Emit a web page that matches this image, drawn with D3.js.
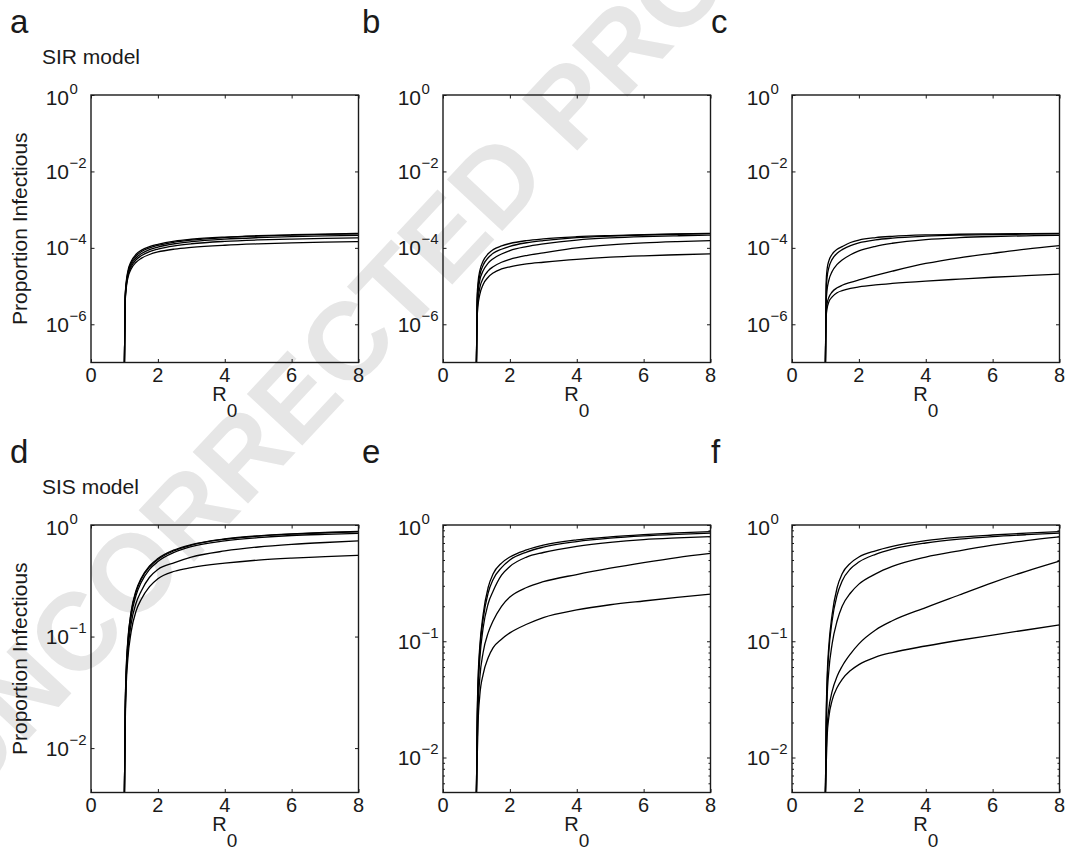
<!DOCTYPE html>
<html>
<head>
<meta charset="utf-8">
<script src="https://d3js.org/d3.v7.min.js"></script>
<style>
body { margin: 0; background: #fff; }
svg text { font-family: "Liberation Sans", Arial, Helvetica, sans-serif; fill: #1a1a1a; }
.axis path, .axis line { stroke: #1a1a1a; }
</style>
</head>
<body>
<div id="container"></div>
<script>
var r0Grid = [1, 1.02, 1.05, 1.1, 1.2, 1.35, 1.5, 1.75, 2, 2.5, 3, 4, 5, 6, 7, 8];

// SIR model, proportion infectious (5 curves per panel)
var panelA = [
  [1e-7, 5e-6, 1.2e-5, 2.4e-5, 4.4e-5, 6.8e-5, 8.6e-5, 1.08e-4, 1.24e-4, 1.5e-4, 1.68e-4, 1.92e-4, 2.08e-4, 2.2e-4, 2.3e-4, 2.38e-4],
  [1e-7, 4.6e-6, 1.1e-5, 2.2e-5, 4.0e-5, 6.2e-5, 7.9e-5, 1.0e-4, 1.16e-4, 1.42e-4, 1.6e-4, 1.86e-4, 2.03e-4, 2.15e-4, 2.26e-4, 2.34e-4],
  [1e-7, 4.2e-6, 1.0e-5, 2.0e-5, 3.6e-5, 5.5e-5, 7.0e-5, 9.0e-5, 1.05e-4, 1.28e-4, 1.45e-4, 1.69e-4, 1.85e-4, 1.97e-4, 2.06e-4, 2.13e-4],
  [1e-7, 3.8e-6, 9e-6, 1.8e-5, 3.2e-5, 4.9e-5, 6.2e-5, 8.0e-5, 9.3e-5, 1.13e-4, 1.28e-4, 1.48e-4, 1.61e-4, 1.7e-4, 1.77e-4, 1.83e-4],
  [1e-7, 3.4e-6, 8e-6, 1.6e-5, 2.8e-5, 4.2e-5, 5.3e-5, 6.7e-5, 7.8e-5, 9.3e-5, 1.03e-4, 1.17e-4, 1.27e-4, 1.35e-4, 1.41e-4, 1.46e-4]
];
var panelB = [
  [1e-7, 5e-6, 1.3e-5, 2.5e-5, 4.5e-5, 7.0e-5, 9.0e-5, 1.12e-4, 1.3e-4, 1.55e-4, 1.72e-4, 1.95e-4, 2.1e-4, 2.22e-4, 2.32e-4, 2.4e-4],
  [1e-7, 4e-6, 1e-5, 1.9e-5, 3.5e-5, 5.5e-5, 7.2e-5, 9.2e-5, 1.1e-4, 1.36e-4, 1.55e-4, 1.85e-4, 2.03e-4, 2.17e-4, 2.27e-4, 2.35e-4],
  [1e-7, 3e-6, 7e-6, 1.4e-5, 2.5e-5, 4.0e-5, 5.2e-5, 6.9e-5, 8.5e-5, 1.08e-4, 1.27e-4, 1.6e-4, 1.82e-4, 1.97e-4, 2.07e-4, 2.15e-4],
  [1e-7, 2e-6, 4.6e-6, 9e-6, 1.6e-5, 2.5e-5, 3.2e-5, 4.2e-5, 5.0e-5, 6.3e-5, 7.4e-5, 1.0e-4, 1.2e-4, 1.35e-4, 1.46e-4, 1.55e-4],
  [1e-7, 1.4e-6, 3.2e-6, 6e-6, 1.1e-5, 1.7e-5, 2.2e-5, 2.8e-5, 3.2e-5, 3.8e-5, 4.2e-5, 5.0e-5, 5.7e-5, 6.2e-5, 6.6e-5, 7.0e-5]
];
var panelC = [
  [1e-7, 1.2e-5, 2.8e-5, 4.5e-5, 6.8e-5, 9.2e-5, 1.08e-4, 1.38e-4, 1.6e-4, 1.85e-4, 2.0e-4, 2.18e-4, 2.27e-4, 2.33e-4, 2.37e-4, 2.4e-4],
  [1e-7, 7e-6, 1.7e-5, 3e-5, 5e-5, 7.2e-5, 9e-5, 1.15e-4, 1.35e-4, 1.62e-4, 1.8e-4, 2.02e-4, 2.15e-4, 2.23e-4, 2.28e-4, 2.32e-4],
  [1e-7, 3.5e-6, 8e-6, 1.4e-5, 2.4e-5, 3.7e-5, 4.8e-5, 6.6e-5, 8.3e-5, 1.1e-4, 1.32e-4, 1.65e-4, 1.85e-4, 1.98e-4, 2.07e-4, 2.13e-4],
  [1e-7, 2e-6, 3.5e-6, 5e-6, 7e-6, 9e-6, 1.05e-5, 1.25e-5, 1.45e-5, 1.9e-5, 2.45e-5, 3.9e-5, 5.5e-5, 7.2e-5, 9.3e-5, 1.15e-4],
  [1e-7, 1.5e-6, 2.6e-6, 3.8e-6, 5.2e-6, 6.7e-6, 7.6e-6, 8.7e-6, 9.5e-6, 1.07e-5, 1.17e-5, 1.35e-5, 1.52e-5, 1.7e-5, 1.87e-5, 2.05e-5]
];

// SIS model
var panelD = [
  [0.004, 0.0196, 0.048, 0.091, 0.167, 0.26, 0.333, 0.43, 0.5, 0.6, 0.667, 0.75, 0.8, 0.833, 0.857, 0.875],
  [0.004, 0.019, 0.046, 0.088, 0.162, 0.252, 0.325, 0.42, 0.49, 0.59, 0.66, 0.745, 0.795, 0.828, 0.852, 0.868],
  [0.004, 0.018, 0.043, 0.082, 0.15, 0.235, 0.305, 0.4, 0.47, 0.57, 0.64, 0.72, 0.77, 0.805, 0.825, 0.84],
  [0.004, 0.016, 0.039, 0.072, 0.13, 0.2, 0.255, 0.34, 0.4, 0.46, 0.515, 0.585, 0.635, 0.67, 0.697, 0.72],
  [0.004, 0.014, 0.034, 0.062, 0.11, 0.17, 0.215, 0.28, 0.33, 0.385, 0.415, 0.455, 0.485, 0.505, 0.52, 0.535]
];
var panelE = [
  [0.005, 0.02, 0.048, 0.09, 0.17, 0.29, 0.38, 0.47, 0.53, 0.61, 0.67, 0.745, 0.79, 0.825, 0.855, 0.876],
  [0.005, 0.018, 0.044, 0.083, 0.155, 0.26, 0.34, 0.43, 0.5, 0.585, 0.645, 0.72, 0.77, 0.805, 0.83, 0.85],
  [0.005, 0.016, 0.038, 0.07, 0.13, 0.21, 0.27, 0.37, 0.44, 0.53, 0.58, 0.655, 0.71, 0.75, 0.775, 0.795],
  [0.005, 0.012, 0.027, 0.048, 0.08, 0.118, 0.15, 0.2, 0.24, 0.29, 0.325, 0.375, 0.425, 0.475, 0.525, 0.57],
  [0.005, 0.009, 0.02, 0.034, 0.052, 0.072, 0.088, 0.104, 0.118, 0.14, 0.16, 0.186, 0.206, 0.222, 0.238, 0.254]
];
var panelF = [
  [0.005, 0.02, 0.048, 0.09, 0.17, 0.29, 0.38, 0.47, 0.53, 0.6, 0.655, 0.735, 0.785, 0.82, 0.85, 0.876],
  [0.005, 0.018, 0.043, 0.08, 0.15, 0.25, 0.33, 0.42, 0.48, 0.56, 0.62, 0.7, 0.755, 0.795, 0.825, 0.85],
  [0.005, 0.014, 0.032, 0.055, 0.095, 0.15, 0.2, 0.26, 0.31, 0.38, 0.44, 0.53, 0.6, 0.67, 0.735, 0.79],
  [0.005, 0.01, 0.018, 0.026, 0.037, 0.05, 0.061, 0.078, 0.095, 0.125, 0.15, 0.195, 0.25, 0.32, 0.4, 0.49],
  [0.005, 0.008, 0.015, 0.022, 0.031, 0.04, 0.047, 0.056, 0.063, 0.073, 0.08, 0.091, 0.102, 0.113, 0.125, 0.138]
];

var xTicks = [0, 2, 4, 6, 8];
var yTicksTop = [1, 1e-2, 1e-4, 1e-6];
var yExpTop = ["0", "\u22122", "\u22124", "\u22126"];
var yTicksBottom = [1, 1e-1, 1e-2];
var yExpBottom = ["0", "\u22121", "\u22122"];
var minorBottom = [6e-3, 7e-3, 8e-3, 9e-3, 2e-2, 3e-2, 4e-2, 5e-2, 6e-2, 7e-2, 8e-2, 9e-2,
                   2e-1, 3e-1, 4e-1, 5e-1, 6e-1, 7e-1, 8e-1, 9e-1];

var width = 1065, height = 857;

var svg = d3.select("#container").append("svg")
    .attr("width", width)
    .attr("height", height)

// faint proof watermark behind everything
svg.append("text")
    .attr("transform", "translate(-32,804) rotate(-47)")
    .attr("font-size", 110)
    .attr("font-weight", "bold")
    .style("fill", "#e6e6e6")
    .text("UNCORRECTED PROOF")

var panels = [
  { id: "a", data: panelA, left: 91,  top: 95,  dom: [1e-7, 1],  ticks: yTicksTop, exps: yExpTop, model: "SIR model", ylab: true },
  { id: "b", data: panelB, left: 443, top: 95,  dom: [1e-7, 1],  ticks: yTicksTop, exps: yExpTop },
  { id: "c", data: panelC, left: 792, top: 95,  dom: [1e-7, 1],  ticks: yTicksTop, exps: yExpTop },
  { id: "d", data: panelD, left: 91,  top: 525, dom: [0.004, 1], ticks: yTicksBottom, exps: yExpBottom, model: "SIS model", ylab: true },
  { id: "e", data: panelE, left: 443, top: 525, dom: [0.005, 1], ticks: yTicksBottom, exps: yExpBottom, minor: true },
  { id: "f", data: panelF, left: 792, top: 525, dom: [0.005, 1], ticks: yTicksBottom, exps: yExpBottom, minor: true }
];

var w = 267.5, h = 267.5;

panels.forEach(function(p) {
  var g = svg.append("g").attr("transform", "translate(" + p.left + "," + p.top + ")");

  var x = d3.scaleLinear().domain([0, 8]).range([0, w]);
  var y = d3.scaleLog().domain(p.dom).range([h, 0]);

  g.append("clipPath").attr("id", "clip-" + p.id)
    .append("rect").attr("width", w).attr("height", h);

  var line = d3.line()
      .x(function(d) { return x(d[0]); })
      .y(function(d) { return y(d[1]); })
      .curve(d3.curveMonotoneX);

  g.append("g").attr("clip-path", "url(#clip-" + p.id + ")")
    .selectAll("path")
    .data(p.data)
    .enter().append("path")
      .attr("d", function(vals) { return line(vals.map(function(v, i) { return [r0Grid[i], v]; })); })
      .attr("fill", "none")
      .attr("stroke", "#000")
      .attr("stroke-width", 1.3);

  // inward ticks on all four sides
  var ax = [
    [d3.axisBottom(x).tickValues(xTicks), "translate(0," + h + ")", -3.5],
    [d3.axisTop(x).tickValues(xTicks), "translate(0,0)", -3.5],
    [d3.axisLeft(y).tickValues(p.ticks), "translate(0,0)", -3.5],
    [d3.axisRight(y).tickValues(p.ticks), "translate(" + w + ",0)", -3.5]
  ];
  if (p.minor) {
    ax.push([d3.axisLeft(y).tickValues(minorBottom), "translate(0,0)", -2]);
    ax.push([d3.axisRight(y).tickValues(minorBottom), "translate(" + w + ",0)", -2]);
  }
  ax.forEach(function(a) {
    var sel = g.append("g").attr("class", "axis").attr("transform", a[1])
      .call(a[0].tickSizeInner(a[2]).tickSizeOuter(0).tickFormat(""));
    sel.select(".domain").remove();
    sel.selectAll("line").attr("stroke-width", 1);
  });

  g.append("rect")
    .attr("width", w).attr("height", h)
    .attr("fill", "none")
    .attr("stroke", "#1a1a1a")
    .attr("stroke-width", 1.4);

  // x tick labels
  g.selectAll(".xl")
    .data(xTicks)
    .enter().append("text")
      .attr("x", function(d) { return x(d); })
      .attr("y", h + 19)
      .attr("text-anchor", "middle")
      .attr("font-size", 20)
      .text(function(d) { return d; });

  // y tick labels 10^k
  p.ticks.forEach(function(t, i) {
    var yy = y(t) + (t === 1 ? 9.5 : 7.5);
    g.append("text")
      .attr("x", -22).attr("y", yy)
      .attr("text-anchor", "end")
      .attr("font-size", 21)
      .text("10");
    g.append("text")
      .attr("x", -21.5).attr("y", yy - 11)
      .attr("font-size", 15)
      .text(p.exps[i]);
  });

  // R0 axis label
  var xl = g.append("text")
      .attr("x", w / 2).attr("y", h + 38)
      .attr("text-anchor", "middle")
      .attr("font-size", 20);
  xl.append("tspan").text("R");
  xl.append("tspan").attr("dy", 16).attr("font-size", 19).text("0");

  if (p.ylab) {
    svg.append("text")
      .attr("transform", "translate(26.5," + (p.top + h / 2) + ") rotate(-90)")
      .attr("text-anchor", "middle")
      .attr("font-size", 21)
      .text("Proportion Infectious");
  }
  if (p.model) {
    svg.append("text")
      .attr("x", p.left - 49).attr("y", p.top - 31)
      .attr("font-size", 21)
      .text(p.model);
  }

  svg.append("text")
    .attr("x", p.left - 81).attr("y", p.top - 62)
    .attr("font-size", 33)
    .text(p.id);
});
</script>
</body>
</html>
